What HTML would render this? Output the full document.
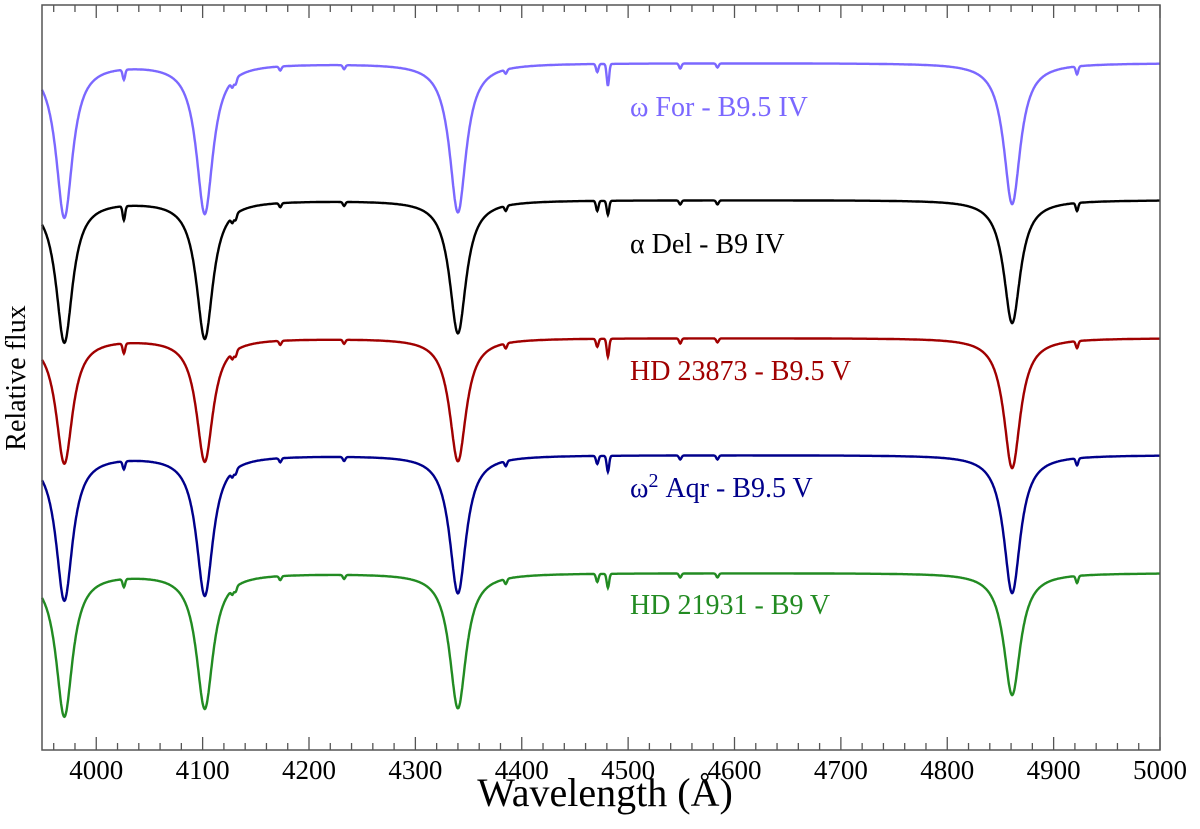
<!DOCTYPE html>
<html><head><meta charset="utf-8"><style>
body{margin:0;background:#fff;}
text,tspan{font-family:"Liberation Serif","DejaVu Serif",serif !important;}
</style></head><body>
<svg id="chart" width="1200" height="824" viewBox="0 0 1200 824" xmlns="http://www.w3.org/2000/svg">
<g id="series"></g>
<g id="axes"></g>
<text x="605" y="806" font-size="40" text-anchor="middle">Wavelength (Å)</text>
<text transform="translate(25,378) rotate(-90)" font-size="28" text-anchor="middle">Relative flux</text>
<text x="630" y="116" font-size="28" fill="#7b68ff">ω For - B9.5 IV</text>
<text x="630" y="253" font-size="28" fill="#000">α Del - B9 IV</text>
<text x="630" y="380" font-size="28" fill="#a00000">HD 23873 - B9.5 V</text>
<text x="630" y="497" font-size="28" fill="#00008b">ω<tspan dy="-10" font-size="20">2</tspan><tspan dy="10"> Aqr - B9.5 V</tspan></text>
<text x="630" y="614" font-size="28" fill="#228b22">HD 21931 - B9 V</text>
<g id="ticklabels"></g>
</svg>
<script>
const names=['omega-for','alpha-del','hd23873','omega2-aqr','hd21931'];
const colors=['#7b68ff','#000000','#a00000','#00008b','#228b22'];
const continuum=[63,200,338,455,573];
const balmerCenters=[3970,4102,4340,4861];
const balmerDepths=[
 [154,150,149,141],
 [142,138,133,123],
 [125,123,123,130],
 [145,140,138,138],
 [143,135,135,122]];
const metalCenters=[4026,4128,4131,4173,4233,4385,4471,4481,4549,4584,4922];
const metalDepths=[
 [10,6,6,4,4,4,8,22,5,4,8],
 [14,6,6,4,4,5,10,14,4,4,8],
 [10,6,6,4,4,5,8,18,5,4,7],
 [8,5,5,4,4,5,8,16,4,4,7],
 [8,5,5,4,4,5,8,14,4,4,7]];
const xTicks=[4000,4100,4200,4300,4400,4500,4600,4700,4800,4900,5000];
const X0=42,X1=1160,Y0=5,Y1=750,WMIN=3949,WMAX=5000;
const xs=w=>X0+(w-WMIN)/(WMAX-WMIN)*(X1-X0);
const NS='http://www.w3.org/2000/svg';
const sg=document.getElementById('series');
names.forEach((n,i)=>{
 let d='';
 for(let w=WMIN;w<=WMAX;w+=0.5){
  let f=0;
  balmerCenters.forEach((c,j)=>{const t=(w-c)/9.5;f+=balmerDepths[i][j]/(1+t*t);});
  metalCenters.forEach((c,j)=>{const t=(w-c)/1.6;f+=metalDepths[i][j]*Math.exp(-t*t);});
  d+=(d?'L':'M')+xs(w).toFixed(1)+','+(continuum[i]+f).toFixed(1);
 }
 const p=document.createElementNS(NS,'path');
 p.setAttribute('d',d);p.setAttribute('fill','none');p.setAttribute('stroke',colors[i]);p.setAttribute('stroke-width','2.4');
 
 
 sg.appendChild(p);
});
const ax=document.getElementById('axes');
let h='<rect x="'+X0+'" y="'+Y0+'" width="'+(X1-X0)+'" height="'+(Y1-Y0)+'" fill="none" stroke="#555" stroke-width="1.5"/>';
for(let w=3960;w<=5000;w+=20){
 const x=xs(w),maj=w%100===0,L=maj?13:7;
 h+='<line x1="'+x+'" y1="'+Y1+'" x2="'+x+'" y2="'+(Y1-L)+'" stroke="#555" stroke-width="1.3"/>';
 h+='<line x1="'+x+'" y1="'+Y0+'" x2="'+x+'" y2="'+(Y0+L)+'" stroke="#555" stroke-width="1.3"/>';
}
ax.innerHTML=h;
let tl='';
xTicks.forEach(w=>{
 tl+='<text x="'+xs(w)+'" y="779" font-size="27" text-anchor="middle" style="font-family:\'Liberation Serif\',serif">'+w+'</text>';
});
document.getElementById('ticklabels').innerHTML=tl;
</script>
</body></html>
